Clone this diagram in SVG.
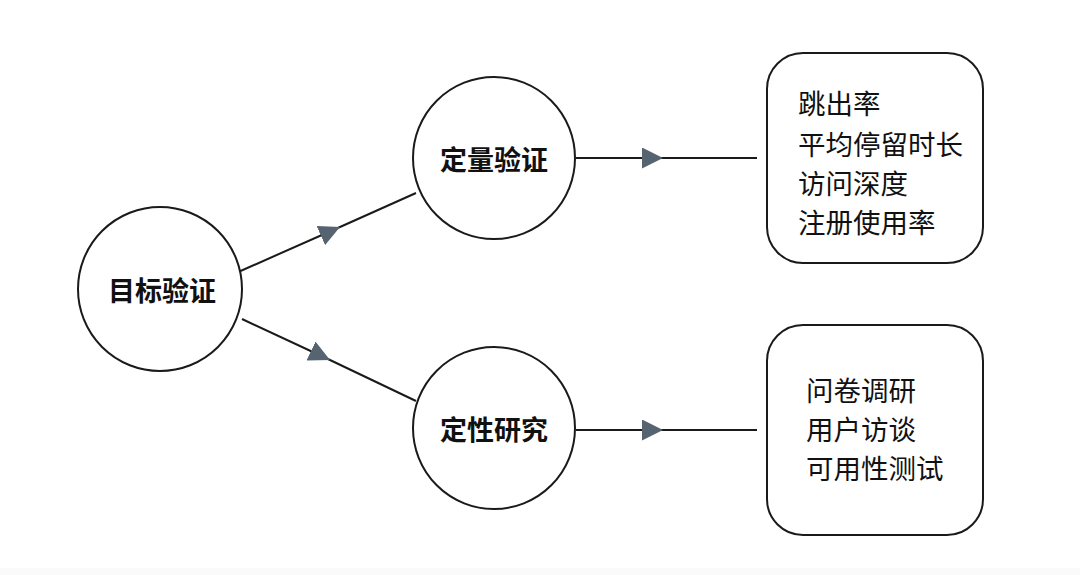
<svg xmlns="http://www.w3.org/2000/svg" width="1080" height="575" viewBox="0 0 1080 575">
<defs>
<style>
.node circle{fill:#fff;stroke:#1a1a1a;stroke-width:2}
.node rect{fill:#fff;stroke:#1a1a1a;stroke-width:2}
.lbl{font-family:"Noto Sans CJK SC","Noto Sans",sans-serif;font-size:27px;font-weight:700;fill:#111;text-anchor:middle;dominant-baseline:central}
.item{font-family:"Noto Sans CJK SC","Noto Sans",sans-serif;font-size:27.5px;font-weight:400;fill:#111}
.conn{fill:none;stroke:#1a1a1a;stroke-width:2;marker-mid:url(#arr)}
</style>
<marker id="arr" viewBox="0 0 20 20" refX="20" refY="10" markerWidth="21" markerHeight="21" markerUnits="userSpaceOnUse" orient="auto">
<path d="M0,0 L20,10 L0,20 Z" fill="#566370"/>
</marker>
</defs>
<rect width="1080" height="575" fill="#fff"/>
<rect y="568" width="1080" height="7" fill="#fafafa"/>
<g id="connectors">
<polyline class="conn" points="236,273 340,227 416,193"/>
<polyline class="conn" points="242,319 330,360 416,401"/>
<polyline class="conn" points="576,158 663,158 757,158"/>
<polyline class="conn" points="576,430 663,430 757,430"/>
</g>
<g id="n-goal" class="node">
<circle cx="160" cy="289" r="82"/>
<text class="lbl" x="162" y="289">目标验证</text>
</g>
<g id="n-quant" class="node">
<circle cx="494" cy="158" r="81"/>
<text class="lbl" x="494" y="158">定量验证</text>
</g>
<g id="n-qual" class="node">
<circle cx="494" cy="428" r="81"/>
<text class="lbl" x="494" y="428">定性研究</text>
</g>
<g id="n-metrics" class="node">
<rect x="767" y="53" width="216" height="210" rx="36"/>
<text class="item" x="798" y="114">跳出率</text>
<text class="item" x="798" y="155">平均停留时长</text>
<text class="item" x="798" y="194">访问深度</text>
<text class="item" x="798" y="233">注册使用率</text>
</g>
<g id="n-methods" class="node">
<rect x="767" y="325" width="216" height="210" rx="36"/>
<text class="item" x="806" y="401">问卷调研</text>
<text class="item" x="806" y="440">用户访谈</text>
<text class="item" x="806" y="479">可用性测试</text>
</g>
</svg>
